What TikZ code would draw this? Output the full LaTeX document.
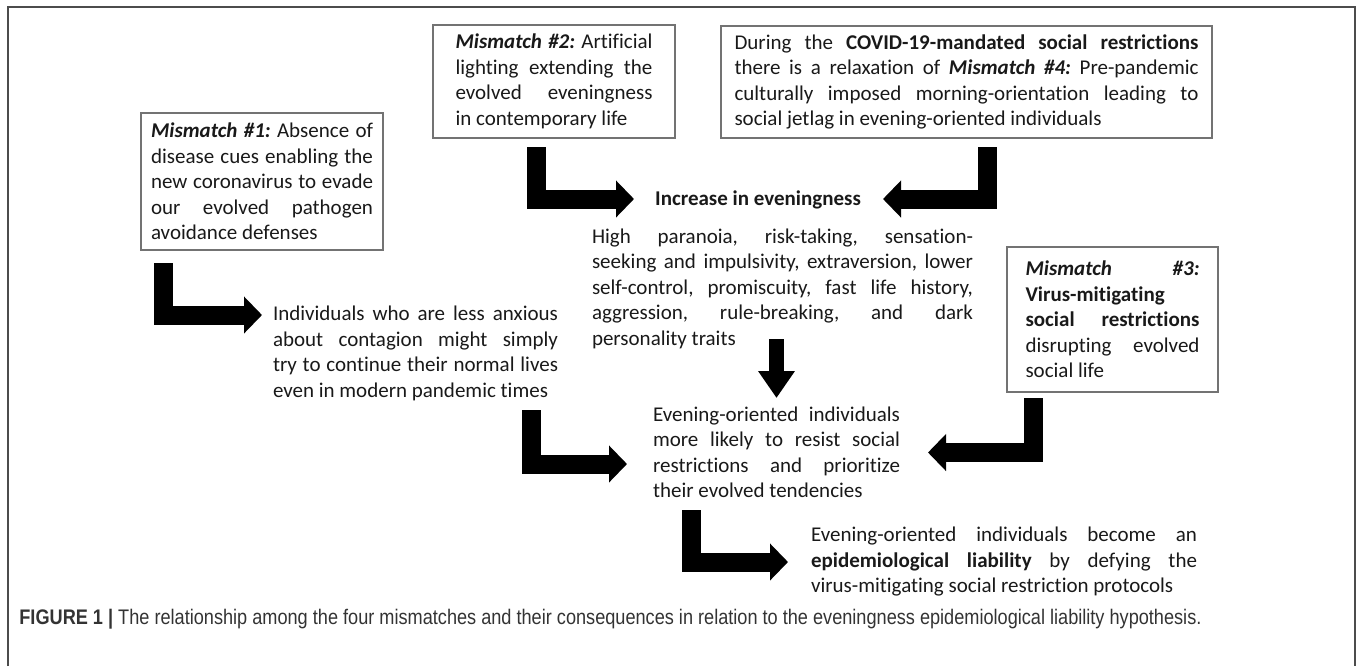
\documentclass[tikz,border=0pt]{standalone}
\usepackage{fontspec}
\setmainfont{Carlito}[Ligatures=NoCommon]
\newfontfamily\capfont[FakeStretch=0.86]{Liberation Sans}
\usetikzlibrary{arrows.meta}
\newcommand{\mm}[1]{\textbf{\textit{#1}}}
\newcommand{\bodyfont}{\fontsize{10.5pt}{12.75pt}\selectfont\frenchspacing
  \spaceskip=0.226em plus 1em minus 0.05em\relax
  \tolerance=10000\hyphenpenalty=10000\exhyphenpenalty=10000\relax}

\begin{document}
\begin{tikzpicture}[x=0.5pt,y=-0.5pt]
  \tikzstyle{every node}=[inner sep=0pt, font=\bodyfont, text=black!90]
  \tikzstyle{jtext}=[text width=#1, align=justify]
  \tikzstyle{mbox}=[draw=black!55, line width=0.7pt]
  \tikzstyle{bent}=[line width=9.5pt, line join=miter, -{Triangle[width=18pt,length=9pt]}]
  \tikzstyle{down}=[line width=7.5pt, -{Triangle[width=17.5pt,length=13.5pt]}]

  \useasboundingbox (0,0) rectangle (1358,666);
  \draw[black!70, line width=0.9pt] (8,666) -- (8,7) -- (1355,7) -- (1355,666);

  % mismatch boxes
  \node[mbox, jtext=111pt, minimum width=121pt, minimum height=68.5pt] (m1) at (262,181.5) {%
    \mm{Mismatch \#1:} Absence of\linebreak
    disease cues enabling the\linebreak
    new coronavirus to evade\linebreak
    our evolved pathogen\linebreak
    avoidance defenses};
  \node[mbox, jtext=98.5pt, minimum width=121pt, minimum height=56.5pt] (m2) at (554,81.5) {%
    \mm{Mismatch \#2:} Artificial\linebreak
    lighting extending the\linebreak
    evolved eveningness\linebreak
    in contemporary life};
  \node[mbox, jtext=232pt, minimum width=245.5pt, minimum height=56pt] (m4) at (966.5,82) {%
    During the \textbf{COVID-19-mandated social restrictions}\linebreak
    there is a relaxation of \mm{Mismatch \#4:} Pre-pandemic\linebreak
    culturally imposed morning-orientation leading to\linebreak
    social jetlag in evening-oriented individuals};
  \node[mbox, jtext=87pt, minimum width=105.5pt, minimum height=72.5pt] (m3) at (1112.5,319.5) {%
    \mm{Mismatch} \mm{\#3:}\linebreak
    \textbf{Virus-mitigating}\newline
    \textbf{social restrictions}\linebreak
    disrupting evolved\linebreak
    social life};

  % consequences
  \node (incr) at (758,200) {\textbf{Increase in eveningness}};
  \node[jtext=190.5pt] (traits) at (782.5,288.5) {%
    High paranoia, risk-taking, sensation-\linebreak
    seeking and impulsivity, extraversion, lower\linebreak
    self-control, promiscuity, fast life history,\linebreak
    aggression, rule-breaking, and dark\linebreak
    personality traits};
  \node[jtext=142.5pt] (indiv) at (415.5,353.5) {%
    Individuals who are less anxious\linebreak
    about contagion might simply\linebreak
    try to continue their normal lives\linebreak
    even in modern pandemic times};
  \node[jtext=123.5pt] (resist) at (776.5,452.5) {%
    Evening-oriented individuals\linebreak
    more likely to resist social\linebreak
    restrictions and prioritize\linebreak
    their evolved tendencies};
  \node[jtext=193pt] (liab) at (1004,561.5) {%
    Evening-oriented individuals become an\linebreak
    \textbf{epidemiological liability} by defying the\linebreak
    virus-mitigating social restriction protocols};

  \node[anchor=west, font=\capfont\fontsize{10.55pt}{12pt}\selectfont, text=black!80] (cap) at (19,619)
    {\textbf{FIGURE 1 |} The relationship among the four mismatches and their consequences in relation to the eveningness epidemiological liability hypothesis.};

  % arrow ends
  \coordinate (a1) at (163.5,263);   \coordinate (t1) at (262,315);
  \coordinate (a2) at (536,147);     \coordinate (t2) at (634,199);
  \coordinate (a4) at (987,147);     \coordinate (t4) at (883,199);
  \coordinate (d1) at (776.5,339);   \coordinate (td) at (776.5,398);
  \coordinate (a5) at (531.5,410);   \coordinate (t5) at (627,464);
  \coordinate (a3) at (1033.5,398);  \coordinate (t3) at (928,452.5);
  \coordinate (a6) at (691,510);     \coordinate (t6) at (788,562);

  \draw[bent] (a1) |- (t1);
  \draw[bent] (a2) |- (t2);
  \draw[bent] (a4) |- (t4);
  \draw[down] (d1) -- (td);
  \draw[bent] (a5) |- (t5);
  \draw[bent] (a3) |- (t3);
  \draw[bent] (a6) |- (t6);
\end{tikzpicture}
\end{document}
